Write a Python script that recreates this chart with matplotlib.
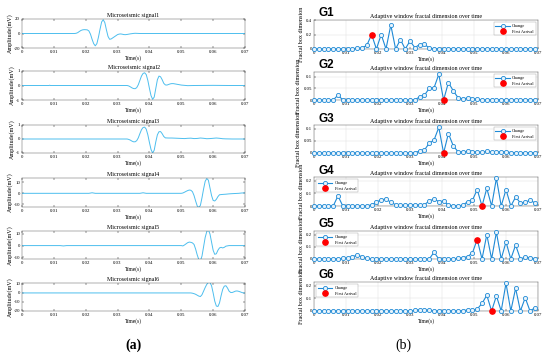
import numpy as np
import matplotlib
matplotlib.use('Agg')
import matplotlib.pyplot as plt

plt.rcParams['font.family'] = ['Liberation Serif', 'DejaVu Serif']
plt.rcParams['axes.unicode_minus'] = False

# ---- left column: microseismic signals, (time s, amplitude mV) knots
sig1 = [(0, 0), (0.0165, 0), (0.017, 0.3), (0.0175, 1.2), (0.018, 2.8), (0.0185, 4.2), (0.019, 5.0),
        (0.0195, 5.3), (0.020, 5.2), (0.0205, 5.0), (0.021, 3.5), (0.0215, -1), (0.022, -8),
        (0.0225, -14), (0.023, -17), (0.0235, -14), (0.024, -5), (0.0245, 6), (0.025, 16),
        (0.0255, 19), (0.026, 15), (0.0265, 5), (0.027, -4), (0.0275, -8), (0.028, -7.5),
        (0.0285, -6), (0.029, -4.5), (0.0295, -3), (0.030, -1.5), (0.0305, -0.8), (0.031, -0.6),
        (0.0315, -1), (0.032, -1.5), (0.0325, -1.6), (0.033, -1.3), (0.0335, -0.9), (0.034, -0.5),
        (0.0345, -0.2), (0.035, 0.1), (0.0355, 0.3), (0.036, 0.2), (0.037, 0), (0.07, 0)]
sig2 = [(0, 0), (0.0085, 0), (0.0087, 0.02), (0.0089, 0), (0.033, 0), (0.0335, -0.03), (0.034, -0.09),
        (0.0345, -0.16), (0.035, -0.21), (0.0355, -0.22), (0.036, -0.15), (0.0365, 0.05),
        (0.037, 0.35), (0.0375, 0.65), (0.038, 0.83), (0.0385, 0.88), (0.039, 0.75), (0.0395, 0.35),
        (0.040, -0.2), (0.0405, -0.7), (0.041, -0.95), (0.0415, -0.8), (0.042, -0.2), (0.0425, 0.4),
        (0.043, 0.65), (0.0435, 0.6), (0.044, 0.4), (0.0445, 0.15), (0.045, 0.04), (0.0455, 0.03),
        (0.046, 0.07), (0.0465, 0.11), (0.047, 0.13), (0.0475, 0.13), (0.048, 0.11), (0.049, 0.07),
        (0.050, 0.03), (0.051, 0.01), (0.052, -0.01), (0.054, 0), (0.060, 0.01), (0.065, 0), (0.07, 0)]
sig3 = [(0, 0), (0.033, 0), (0.0335, -0.03), (0.034, -0.08), (0.0345, -0.15), (0.035, -0.2),
        (0.0355, -0.2), (0.036, -0.12), (0.0365, 0.08), (0.037, 0.38), (0.0375, 0.66), (0.038, 0.82),
        (0.0385, 0.85), (0.039, 0.7), (0.0395, 0.3), (0.040, -0.25), (0.0405, -0.75), (0.041, -1.0),
        (0.0415, -0.8), (0.042, -0.2), (0.0425, 0.3), (0.043, 0.52), (0.0435, 0.53), (0.044, 0.38),
        (0.0445, 0.18), (0.045, 0.08), (0.046, 0.07), (0.047, 0.07), (0.048, 0.06), (0.049, 0.05),
        (0.050, 0.04), (0.051, 0.03), (0.052, 0.05), (0.053, 0.06), (0.054, 0.03), (0.055, 0.04),
        (0.056, 0.07), (0.057, 0.05), (0.058, 0.02), (0.059, 0.03), (0.060, 0.05), (0.061, 0.07),
        (0.062, 0.05), (0.063, 0.02), (0.064, 0.01), (0.066, 0), (0.07, 0)]
sig4 = [(0, 0), (0.021, 0), (0.022, 0.5), (0.023, 0), (0.037, 0), (0.038, 0.5), (0.039, 0), (0.050, 0),
        (0.0505, 0.3), (0.051, 1), (0.0515, 1.8), (0.052, 2.5), (0.0525, 3.0), (0.053, 2.8),
        (0.0535, 1.5), (0.054, -2), (0.0545, -7), (0.055, -11.5), (0.0555, -13), (0.056, -11),
        (0.0565, -4), (0.057, 4), (0.0575, 11), (0.058, 13.5), (0.0585, 12), (0.059, 5), (0.0595, -2),
        (0.060, -6.5), (0.0605, -7), (0.061, -5.5), (0.0615, -3), (0.062, -1.3), (0.063, -1),
        (0.064, -0.8), (0.065, -0.5), (0.066, -0.3), (0.068, 0), (0.069, 0.3), (0.07, 0.4)]
sig5 = [(0, 0), (0.012, 0), (0.013, -0.3), (0.014, 0), (0.050, 0), (0.0505, -0.3), (0.051, 0.5),
        (0.0515, 1.5), (0.052, 2.5), (0.0525, 3.0), (0.053, 2.8), (0.0535, 2.3), (0.054, 1),
        (0.0545, -3), (0.055, -8), (0.0555, -12), (0.056, -13), (0.0565, -9), (0.057, -1),
        (0.0575, 7), (0.058, 12), (0.0585, 13.5), (0.059, 10), (0.0595, 3), (0.060, -4),
        (0.0605, -7.5), (0.061, -7), (0.0615, -4), (0.062, -2), (0.0625, -1.5), (0.063, -2),
        (0.0635, -1.5), (0.064, -0.5), (0.065, 0), (0.07, 0)]
sig6 = [(0, 0), (0.053, 0), (0.0535, -0.3), (0.054, -0.8), (0.0545, -1.5), (0.055, -2.5),
        (0.0555, -3.5), (0.056, -4), (0.0565, -2), (0.057, 2), (0.0575, 6), (0.058, 9.5),
        (0.0585, 11.5), (0.059, 11.5), (0.0595, 8), (0.060, 0), (0.0605, -9), (0.061, -14.5),
        (0.0615, -15), (0.062, -11), (0.0625, -3), (0.063, 4), (0.0635, 7.5), (0.064, 8),
        (0.0645, 5.5), (0.065, 2), (0.0655, 0.5), (0.066, 0.5), (0.0665, 1.2), (0.067, 2),
        (0.0675, 2.2), (0.068, 1.8), (0.0685, 1.2), (0.069, 0.5), (0.0695, 0), (0.07, -0.2)]
signals = [sig1, sig2, sig3, sig4, sig5, sig6]
sig_ylims = [(-20, 20), (-1, 1), (-1, 1), (-12.5, 14), (-11.5, 12.5), (-20, 11)]
sig_yticks = [[-20, 0, 20], [-1, 0, 1], [-1, 0, 1], [-10, 0, 10], [-10, 0, 10], [-20, -10, 0, 10]]

# ---- right column: fractal box dimension per window (47 windows, 0.0015 s step)
win_t = np.arange(47) * 0.0015
g1 = [0, 0, 0, 0, 0, 0, 0, 0, 0.005, 0.01, 0.015, 0.05, 0.2, 0, 0.2, 0, 0.33, 0, 0.13, 0, 0.11, 0.02,
      0.06, 0.07, 0.01, 0.005, 0.004, 0.003, 0.003, 0.002, 0.005, 0.006, 0.004, 0.005, 0.004, 0.003,
      0.005, 0.004, 0.003, 0.003, 0.002, 0.002, 0.001, 0.001, 0.001, 0.001, 0.001]
g2 = [0, 0, 0, 0, 0, 0.021, 0, 0, 0, 0, 0, 0, 0, 0, 0, 0, 0, 0, 0, 0, 0, 0.001, 0.013, 0.02, 0.05,
      0.052, 0.11, 0, 0.075, 0.04, 0.01, 0.005, 0.008, 0.006, 0.003, 0.001, 0.001, 0.001, 0.001, 0.001,
      0.001, 0.001, 0.001, 0.001, 0.001, 0.001, 0.001]
g3 = [0, 0, 0, 0, 0, 0, 0, 0, 0, 0, 0, 0, 0, 0, 0, 0, 0, 0, 0, 0, 0, 0.001, 0.008, 0.012, 0.04, 0.053,
      0.105, 0, 0.08, 0.03, 0.005, 0.005, 0.007, 0.006, 0.004, 0.003, 0.007, 0.005, 0.003, 0.006,
      0.005, 0.002, 0.002, 0.001, 0.001, 0.001, 0.001]
g4 = [0, 0, 0, 0, 0, 0.08, 0, 0, 0, 0, 0, 0, 0.01, 0.03, 0.05, 0.055, 0.03, 0.01, 0.005, 0.005, 0.01,
      0.01, 0.008, 0.01, 0.04, 0.055, 0.035, 0.04, 0.005, 0.003, 0.003, 0.005, 0.035, 0.045, 0.13, 0,
      0.14, 0, 0.22, 0, 0.13, 0, 0.07, 0.025, 0.03, 0.045, 0.025]
g5 = [0, 0, 0, 0, 0, 0.003, 0.005, 0.005, 0.02, 0.03, 0.02, 0.005, 0, 0, 0, 0, 0, 0, 0, 0, 0, 0, 0, 0,
      0, 0.055, 0, 0, 0, 0, 0.005, 0.01, 0.02, 0.05, 0.16, 0, 0.2, 0, 0.22, 0, 0.14, 0, 0.115, 0,
      0.015, 0.01, 0.003]
g6 = [0, 0, 0, 0, 0, 0, 0, 0, 0, 0, 0, 0, 0, 0, 0, 0, 0, 0, 0, 0, 0, 0.005, 0.01, 0.01, 0.005, 0, 0, 0,
      0, 0, 0, 0.003, 0.008, 0.005, 0.015, 0.06, 0.125, 0, 0.12, 0, 0.22, 0, 0.18, 0, 0.105, 0, 0.025]
fractal = [g1, g2, g3, g4, g5, g6]
arrival_idx = [12, 27, 27, 35, 34, 37]
frac_ylims = [0.4, 0.12, 0.115, 0.23, 0.23, 0.23]
frac_yticks = [[0, 0.2, 0.4], [0, 0.05, 0.1], [0, 0.05, 0.1], [0, 0.1, 0.2], [0, 0.1, 0.2], [0, 0.1, 0.2]]
legend_loc = ['upper right'] * 3 + ['upper left'] * 3

xticks = [0, 0.01, 0.02, 0.03, 0.04, 0.05, 0.06, 0.07]
xticklabels = ['0', '0.01', '0.02', '0.03', '0.04', '0.05', '0.06', '0.07']

W, H = 550, 353
fig = plt.figure(figsize=(5.5, 3.53), dpi=100)

def rect(x0, x1, top, bottom):
    return [x0 / W, 1 - bottom / H, (x1 - x0) / W, (bottom - top) / H]

left_rows = [(19, 48), (71, 100), (125, 153), (178, 207), (231, 259), (283, 311)]
right_rows = [(20, 49), (72, 100), (125, 153), (177, 206), (231, 259), (282, 311)]

def style(ax, ytick):
    ax.set_xlim(0, 0.07)
    ax.set_xticks(xticks)
    ax.set_xticklabels(xticklabels)
    ax.set_yticks(ytick)
    ax.set_yticklabels([('%g' % v) for v in ytick])
    ax.tick_params(direction='in', length=1.5, width=0.3, labelsize=3.5, pad=1.5, top=True, right=True)
    for s in ax.spines.values():
        s.set_linewidth(0.3)
        s.set_color('#444444')

for k in range(6):
    ax = fig.add_axes(rect(22, 245, *left_rows[k]))
    t = [p[0] for p in signals[k]]
    a = [p[1] for p in signals[k]]
    ax.plot(t, a, color='#4DBEEE', lw=0.7)
    ax.set_ylim(*sig_ylims[k])
    style(ax, sig_yticks[k])
    ax.set_title('Microseismic signal%d' % (k + 1), fontsize=4.3, pad=1.2)
    ax.set_xlabel('Time(s)', fontsize=4, labelpad=1)
    ax.set_ylabel('Amplitude(mV)', fontsize=4.4, labelpad=0.5)

for k in range(6):
    ax = fig.add_axes(rect(314, 538, *right_rows[k]))
    ax.grid(True, color='#dddddd', lw=0.3)
    ax.set_axisbelow(True)
    y = fractal[k]
    ax.plot(win_t, y, '-o', color='#1f8ad6', lw=0.8, ms=3, mfc='#e8f3fb', mew=0.6,
            clip_on=False, label='Change', zorder=3)
    i = arrival_idx[k]
    ax.plot([win_t[i]], [y[i]], 'o', color='red', ms=3.8, clip_on=False, label='First Arrival', zorder=4)
    ax.set_ylim(0, frac_ylims[k])
    style(ax, frac_yticks[k])
    ax.tick_params(top=False, right=False)
    ax.set_title('Adaptive window fractal dimension over time', fontsize=4.3, pad=1.5)
    ax.set_xlabel('Time(s)', fontsize=4, labelpad=1)
    ax.set_ylabel('Fractal box dimension', fontsize=4.4, labelpad=1.5)
    leg = ax.legend(loc=legend_loc[k], fontsize=3.2, frameon=True, handlelength=3.2,
                    borderpad=0.4, labelspacing=0.3, handletextpad=0.6, fancybox=False)
    leg.get_frame().set_linewidth(0.3)
    leg.get_frame().set_edgecolor('#888888')
    pos = ax.get_position()
    fig.text(pos.x0 + 4 / W, pos.y1 + 0.5 / H, 'G%d' % (k + 1), fontsize=8.4, fontweight='bold',
             family='Liberation Sans', va='bottom', ha='left')

fig.text(133 / W, 1 - 345 / H, '(a)', fontsize=10, fontweight='bold', ha='center', va='center')
fig.text(403 / W, 1 - 345 / H, '(b)', fontsize=10, ha='center', va='center')

fig.savefig('out.png', dpi=100)
